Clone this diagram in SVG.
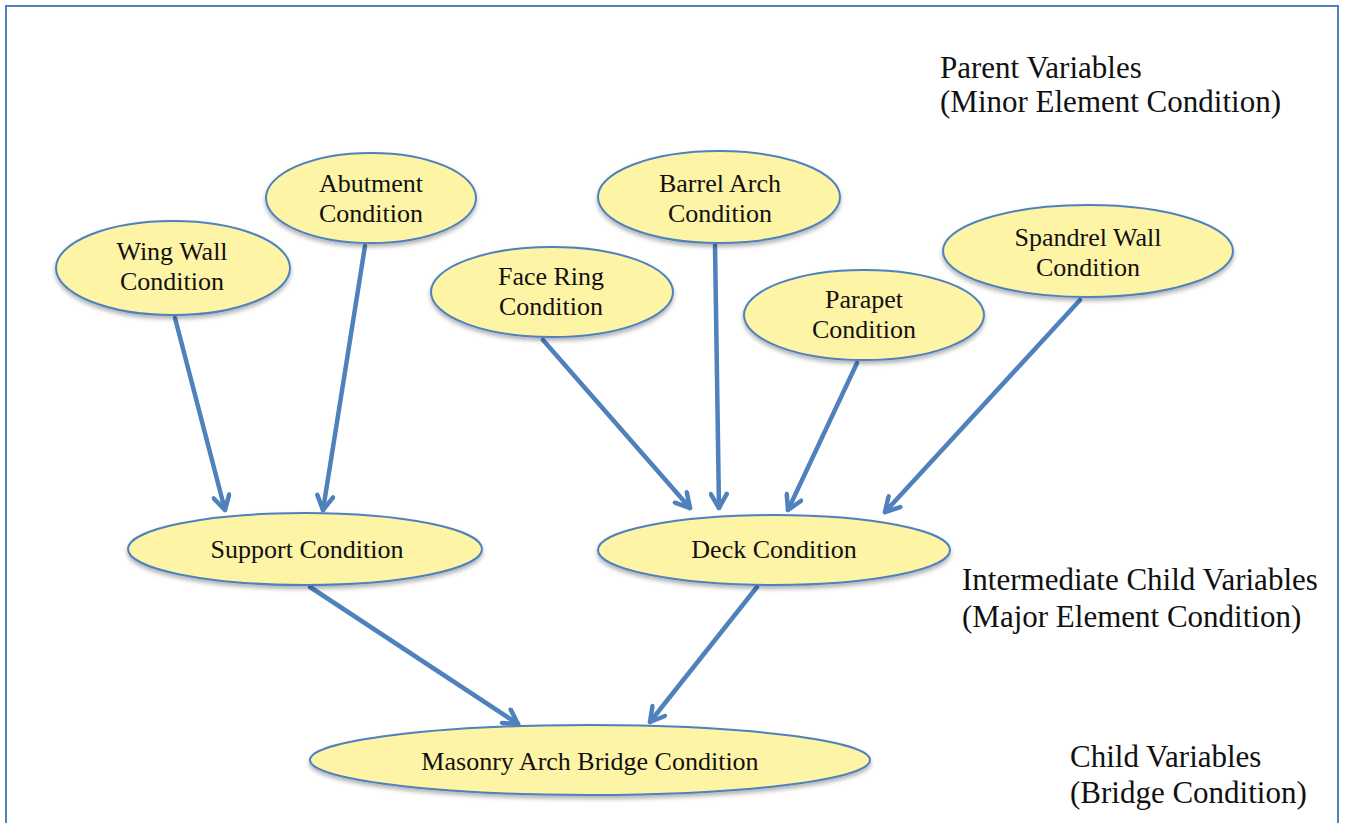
<svg xmlns="http://www.w3.org/2000/svg" width="1348" height="823" viewBox="0 0 1348 823">
  <style>
    .node ellipse { fill: #FEF4A6; stroke: #4F81BD; stroke-width: 2; filter: url(#shadow); }
    .node text { font-family: "Liberation Serif", "Times New Roman", serif; font-size: 26px; fill: #111; text-anchor: middle; }
    .label { font-family: "Liberation Serif", "Times New Roman", serif; font-size: 31px; fill: #111; }
    .divider { stroke: #4F81BD; stroke-width: 6; stroke-dasharray: 20 16; filter: url(#shadow); }
    #connectors line { stroke: #4F81BD; stroke-width: 4.5; stroke-linecap: round; marker-end: url(#arrow); }
  </style>
  <defs>
    <filter id="shadow" x="-10%" y="-30%" width="120%" height="170%">
      <feDropShadow dx="0" dy="3" stdDeviation="2" flood-color="#000" flood-opacity="0.3"/>
    </filter>
    <marker id="arrow" viewBox="0 0 20 20" refX="17" refY="10" markerWidth="20" markerHeight="20" markerUnits="userSpaceOnUse" orient="auto">
      <path d="M3,2 L17,10 L3,18" fill="none" stroke="#4F81BD" stroke-width="4.5" stroke-linecap="round" stroke-linejoin="round"/>
    </marker>
  </defs>

  <rect width="1348" height="823" fill="#fff"/>
  <!-- outer frame -->
  <rect x="6" y="6" width="1332" height="830" fill="none" stroke="#4F81BD" stroke-width="2"/>

  <!-- level dividers -->
  <line class="divider" x1="19" y1="404" x2="1310" y2="404"/>
  <line class="divider" x1="19" y1="649" x2="1310" y2="649"/>

  <!-- level labels -->
  <text class="label" x="940" y="78">Parent Variables</text>
  <text class="label" x="940" y="112">(Minor Element Condition)</text>
  <text class="label" x="962" y="590">Intermediate Child Variables</text>
  <text class="label" x="962" y="627">(Major Element Condition)</text>
  <text class="label" x="1070" y="767">Child Variables</text>
  <text class="label" x="1070" y="803">(Bridge Condition)</text>

  <!-- connectors -->
  <g id="connectors">
    <line x1="175" y1="318" x2="225" y2="510"/>
    <line x1="365" y1="246" x2="323" y2="510"/>
    <line x1="543" y1="340" x2="690" y2="508"/>
    <line x1="715" y1="245" x2="719" y2="508"/>
    <line x1="857" y1="363" x2="788" y2="510"/>
    <line x1="1080" y1="300" x2="885" y2="512"/>
    <line x1="310" y1="587" x2="518" y2="724"/>
    <line x1="757" y1="587" x2="650" y2="722"/>
  </g>

  <!-- parent nodes -->
  <g id="wing-wall" class="node">
    <ellipse cx="173" cy="268" rx="117" ry="47"/>
    <text x="172" y="260">Wing Wall</text>
    <text x="172" y="290">Condition</text>
  </g>
  <g id="abutment" class="node">
    <ellipse cx="371" cy="198" rx="105" ry="45"/>
    <text x="371" y="192">Abutment</text>
    <text x="371" y="222">Condition</text>
  </g>
  <g id="face-ring" class="node">
    <ellipse cx="552" cy="292" rx="121" ry="45"/>
    <text x="551" y="285">Face Ring</text>
    <text x="551" y="315">Condition</text>
  </g>
  <g id="barrel-arch" class="node">
    <ellipse cx="719" cy="197" rx="121" ry="46"/>
    <text x="720" y="192">Barrel Arch</text>
    <text x="720" y="222">Condition</text>
  </g>
  <g id="parapet" class="node">
    <ellipse cx="864" cy="315" rx="120" ry="45"/>
    <text x="864" y="308">Parapet</text>
    <text x="864" y="338">Condition</text>
  </g>
  <g id="spandrel-wall" class="node">
    <ellipse cx="1088" cy="251" rx="145" ry="46"/>
    <text x="1088" y="246">Spandrel Wall</text>
    <text x="1088" y="276">Condition</text>
  </g>

  <!-- intermediate nodes -->
  <g id="support" class="node">
    <ellipse cx="305" cy="549" rx="177" ry="36"/>
    <text x="307" y="558">Support Condition</text>
  </g>
  <g id="deck" class="node">
    <ellipse cx="774" cy="550" rx="176" ry="35"/>
    <text x="774" y="558">Deck Condition</text>
  </g>

  <!-- child node -->
  <g id="bridge" class="node">
    <ellipse cx="590" cy="760" rx="280" ry="35"/>
    <text x="590" y="770">Masonry Arch Bridge Condition</text>
  </g>
</svg>
